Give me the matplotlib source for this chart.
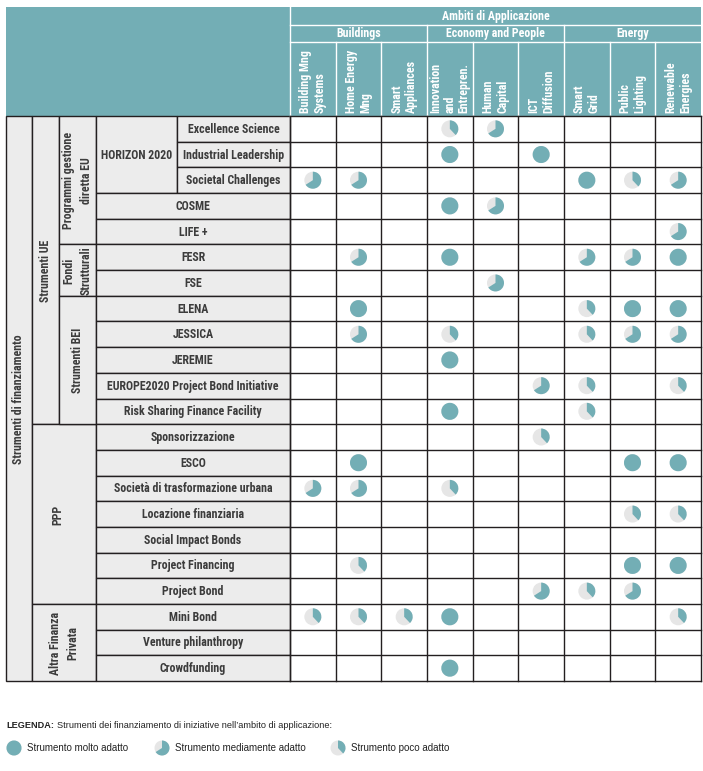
import matplotlib.pyplot as plt
from matplotlib.patches import Rectangle, Wedge, Circle

plt.rcParams['font.family'] = ['Roboto Condensed', 'DejaVu Sans']

# --- DATI ---
titolo = "Ambiti di Applicazione"
gruppi = ["Buildings", "Economy and People", "Energy"]
colonne = ["Building Mng\nSystems", "Home Energy\nMng", "Smart\nAppliances",
           "Innovation\nand\nEntrepren.", "Human\nCapital", "ICT\nDiffusion",
           "Smart\nGrid", "Public\nLighting", "Renewable\nEnergies"]
strumenti = ["Excellence Science", "Industrial Leadership", "Societal Challenges",
             "COSME", "LIFE +", "FESR", "FSE", "ELENA", "JESSICA", "JEREMIE",
             "EUROPE2020 Project Bond Initiative", "Risk Sharing Finance Facility",
             "Sponsorizzazione", "ESCO", "Società di trasformazione urbana",
             "Locazione finanziaria", "Social Impact Bonds", "Project Financing",
             "Project Bond", "Mini Bond", "Venture philanthropy", "Crowdfunding"]
# 3 = molto adatto, 2 = mediamente adatto, 1 = poco adatto, 0 = vuoto
valutazioni = [
    [0, 0, 0, 1, 2, 0, 0, 0, 0],
    [0, 0, 0, 3, 0, 3, 0, 0, 0],
    [2, 2, 0, 0, 0, 0, 3, 1, 2],
    [0, 0, 0, 3, 2, 0, 0, 0, 0],
    [0, 0, 0, 0, 0, 0, 0, 0, 2],
    [0, 2, 0, 3, 0, 0, 2, 2, 3],
    [0, 0, 0, 0, 2, 0, 0, 0, 0],
    [0, 3, 0, 0, 0, 0, 1, 3, 3],
    [0, 2, 0, 1, 0, 0, 1, 2, 2],
    [0, 0, 0, 3, 0, 0, 0, 0, 0],
    [0, 0, 0, 0, 0, 2, 1, 0, 1],
    [0, 0, 0, 3, 0, 0, 1, 0, 0],
    [0, 0, 0, 0, 0, 1, 0, 0, 0],
    [0, 3, 0, 0, 0, 0, 0, 3, 3],
    [2, 2, 0, 1, 0, 0, 0, 0, 0],
    [0, 0, 0, 0, 0, 0, 0, 1, 1],
    [0, 0, 0, 0, 0, 0, 0, 0, 0],
    [0, 1, 0, 0, 0, 0, 0, 3, 3],
    [0, 0, 0, 0, 0, 2, 1, 2, 0],
    [1, 1, 1, 3, 0, 0, 0, 0, 1],
    [0, 0, 0, 0, 0, 0, 0, 0, 0],
    [0, 0, 0, 3, 0, 0, 0, 0, 0],
]
# (testo, colonna sinistra iniziale, colonna finale, riga iniziale, riga finale)
livello1 = [("Strumenti di finanziamento", 0, 1, 0, 22)]
livello2 = [("Strumenti UE", 1, 2, 0, 12), ("PPP", 1, 3, 12, 19),
            ("Altra Finanza\nPrivata", 1, 3, 19, 22)]
livello3 = [("Programmi gestione\ndiretta EU", 2, 3, 0, 5),
            ("Fondi\nStrutturali", 2, 3, 5, 7), ("Strumenti BEI", 2, 3, 7, 12)]
horizon = ("HORIZON 2020", 3, 4, 0, 3)
quota = {3: 1.0, 2: 0.66, 1: 0.38}
legenda = ["Strumento molto adatto", "Strumento mediamente adatto", "Strumento poco adatto"]

# --- STILE / LAYOUT (pixel) ---
W, H = 703, 771
TEAL = '#73aeb5'
GRIGIO_PIE = '#e6e6e6'
GRIGIO_CELLA = '#ececec'
LINEA = '#231f20'
TESTO = '#3c3c3c'
X_SX = [6, 32, 59, 96, 177, 290]
X_DX = 701
Y_TOP, Y_GRP, Y_COL, Y0, Y1 = 7, 25, 42, 116, 681
CW = (X_DX - X_SX[-1]) / len(colonne)
RH = (Y1 - Y0) / len(strumenti)
FS = 8.6
SANS = ['Liberation Sans', 'DejaVu Sans']

fig = plt.figure(figsize=(W / 100, H / 100), dpi=100)
ax = fig.add_axes([0, 0, 1, 1])
ax.set_xlim(0, W)
ax.set_ylim(H, 0)
ax.axis('off')


def cella(x0, x1, r0, r1, testo, rot=0, dx=0):
    y0, y1 = Y0 + r0 * RH, Y0 + r1 * RH
    ax.add_patch(Rectangle((x0, y0), x1 - x0, y1 - y0, facecolor=GRIGIO_CELLA,
                           edgecolor=LINEA, lw=1.0))
    ax.text((x0 + x1) / 2 + dx, (y0 + y1) / 2 + 0.5, testo, rotation=rot, ha='center',
            va='center', multialignment='center', fontsize=FS, fontweight='bold',
            color=TESTO, linespacing=1.45)


# intestazione
ax.add_patch(Rectangle((X_SX[0], Y_TOP), X_DX - X_SX[0], Y0 - Y_TOP, facecolor=TEAL, lw=0))
xd = X_SX[-1]
ax.plot([xd, xd], [Y_TOP, Y0], color='white', lw=1.0)
ax.plot([xd, X_DX], [Y_GRP, Y_GRP], color='white', lw=1.0)
ax.plot([xd, X_DX], [Y_COL, Y_COL], color='white', lw=1.0)
ax.text((xd + X_DX) / 2, (Y_TOP + Y_GRP) / 2 + 0.5, titolo, ha='center', va='center',
        fontsize=FS, fontweight='bold', color='white')
for g, nome in enumerate(gruppi):
    gx0 = xd + g * 3 * CW
    ax.text(gx0 + 1.5 * CW, (Y_GRP + Y_COL) / 2 + 0.5, nome, ha='center', va='center',
            fontsize=FS, fontweight='bold', color='white')
    if g > 0:
        ax.plot([gx0, gx0], [Y_GRP, Y0], color='white', lw=1.0)
for j, nome in enumerate(colonne):
    cx = xd + (j + 0.5) * CW
    if j % 3:
        ax.plot([xd + j * CW] * 2, [Y_COL, Y0], color='white', lw=1.0)
    ax.text(cx, Y0 - 3, nome, rotation=90, ha='center', va='bottom',
            multialignment='left', fontsize=FS, fontweight='bold', color='white',
            linespacing=1.15)

# celle sinistre
for testo, c0, c1, r0, r1 in livello1 + livello2 + livello3 + [horizon]:
    cella(X_SX[c0], X_SX[c1], r0, r1, testo, rot=0 if testo == horizon[0] else 90,
          dx=-6 if testo == "PPP" else 0)
for i, nome in enumerate(strumenti):
    x0 = X_SX[4] if i < horizon[4] else X_SX[3]
    cella(x0, X_SX[5], i, i + 1, nome)

# griglia dati
for i in range(len(strumenti) + 1):
    y = Y0 + i * RH
    ax.plot([xd, X_DX], [y, y], color=LINEA, lw=1.0)
for j in range(len(colonne) + 1):
    x = xd + j * CW
    ax.plot([x, x], [Y0, Y1], color=LINEA, lw=1.0)


def torta(cx, cy, r, frazione):
    ax.add_patch(Circle((cx, cy), r, facecolor=GRIGIO_PIE, lw=0))
    ax.add_patch(Wedge((cx, cy), r, 270, 270 + frazione * 360, facecolor=TEAL, lw=0))


for i, riga in enumerate(valutazioni):
    for j, v in enumerate(riga):
        if v:
            torta(xd + (j + 0.5) * CW, Y0 + (i + 0.5) * RH, 8.5, quota[v])

# legenda
t1 = ax.text(X_SX[0], 725, "LEGENDA:", ha='left', va='center', fontsize=6.6,
             family=SANS, fontweight='bold', color='#222222')
ax.annotate("Strumenti dei finanziamento di iniziative nell\u2019ambito di applicazione:",
            xy=(1, 0.5), xycoords=t1, xytext=(2, 0), textcoords='offset points',
            ha='left', va='center', fontsize=6.6, family=SANS, color='#222222')
leg_x = [14, 162, 338]
for k, (lx, lab) in enumerate(zip(leg_x, legenda)):
    torta(lx, 748, 7.5, quota[3 - k])
    ax.text(lx + 13, 748, lab, ha='left', va='center', fontsize=7,
            family=SANS, color='#222222')

fig.savefig('out.png', dpi=100)
